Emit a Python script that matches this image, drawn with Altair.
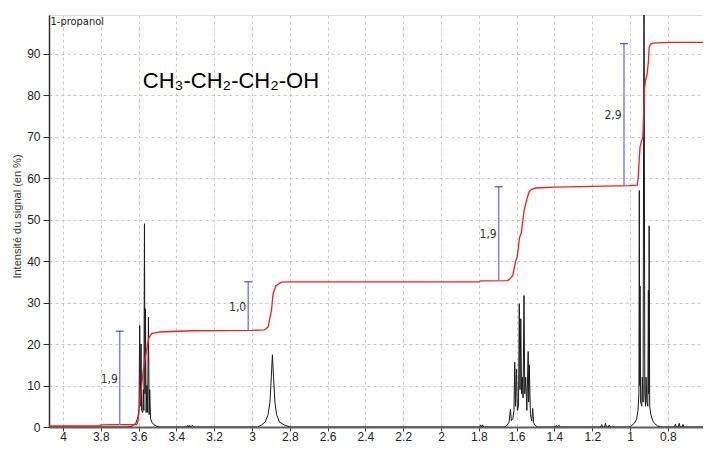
import altair as alt
import pandas as pd

# ---- spectrum (ppm, intensity %) ----
spec_ppm = [
    4.074, 3.660, 3.640, 3.625, 3.612, 3.603, 3.598, 3.594, 3.591, 3.587, 3.584, 3.578, 3.575,
    3.572, 3.569, 3.566, 3.564, 3.560, 3.556, 3.552, 3.548, 3.544, 3.541, 3.537, 3.530,
    3.520, 3.505, 3.490, 3.345, 3.340, 3.335, 3.330, 3.325, 3.315, 3.310,
    2.970, 2.950, 2.930, 2.915, 2.905, 2.898, 2.892, 2.886, 2.879, 2.870, 2.855, 2.830, 2.800,
    1.795, 1.790, 1.785, 1.780, 1.775,
    1.665, 1.650, 1.640, 1.633, 1.628, 1.620, 1.614, 1.610, 1.606, 1.601, 1.596, 1.590,
    1.586, 1.582, 1.578, 1.574, 1.570, 1.566, 1.561, 1.557, 1.552, 1.546, 1.539, 1.536,
    1.533, 1.527, 1.520, 1.515, 1.510, 1.500, 1.490,
    1.395, 1.390, 1.385, 1.375, 1.370,
    1.155, 1.150, 1.145, 1.135, 1.130, 1.125, 1.115, 1.110, 1.105,
    1.000, 0.990, 0.975, 0.965, 0.958, 0.953, 0.951, 0.949, 0.947, 0.944, 0.938, 0.935,
    0.931, 0.926, 0.922, 0.918, 0.915, 0.911, 0.906, 0.903, 0.901, 0.899, 0.896, 0.890,
    0.880, 0.870, 0.855, 0.840,
    0.765, 0.760, 0.755, 0.745, 0.740, 0.735, 0.725, 0.720, 0.715,
    0.614,
]
spec_int = [
    0.0, 0.0, 0.1, 0.5, 1.2, 2.5, 4.5, 24.5, 5.0, 20.0, 4.0, 3.5, 9.0,
    4.0, 49.0, 8.0, 28.5, 3.5, 10.0, 3.5, 26.5, 3.0, 9.0, 2.0, 1.2,
    0.6, 0.2, 0.0, 0.0, 0.4, 0.0, 0.4, 0.0, 0.4, 0.0,
    0.0, 0.5, 1.2, 3.0, 6.0, 12.0, 17.4, 12.0, 6.0, 3.0, 1.2, 0.5, 0.0,
    0.0, 0.5, 0.0, 0.5, 0.0,
    0.0, 0.4, 1.2, 4.3, 1.5, 2.0, 4.0, 15.6, 5.0, 14.0, 4.0, 5.0,
    29.7, 9.0, 26.1, 8.0, 12.0, 7.0, 31.7, 8.0, 12.0, 4.0, 18.2, 6.0,
    15.0, 3.0, 1.5, 4.5, 1.0, 0.3, 0.0,
    0.0, 0.4, 0.0, 0.4, 0.0,
    0.0, 0.6, 0.0, 0.0, 0.9, 0.0, 0.0, 0.5, 0.0,
    0.0, 0.4, 1.0, 2.0, 4.0, 8.0, 57.0, 10.0, 34.0, 6.0, 5.0, 12.0,
    6.0, 120.0, 8.0, 5.0, 12.0, 6.0, 5.0, 33.0, 8.0, 48.5, 5.0, 3.0,
    1.5, 0.8, 0.3, 0.0,
    0.0, 0.7, 0.0, 0.0, 0.9, 0.0, 0.0, 0.6, 0.0,
    0.0,
]

# ---- integration curve (red) ----
int_ppm = [
    4.074, 3.805, 3.800, 3.610, 3.603, 3.594, 3.585, 3.577, 3.568, 3.559, 3.547, 3.532,
    3.488, 3.312, 3.000, 2.935, 2.915, 2.897, 2.889, 2.875, 2.845, 2.800,
    1.800, 1.790, 1.650, 1.640, 1.630, 1.620, 1.612, 1.605, 1.597, 1.590, 1.585, 1.575,
    1.568, 1.560, 1.550, 1.540, 1.533, 1.520, 1.500, 1.400, 1.200, 1.000,
    0.962, 0.957, 0.952, 0.947, 0.940, 0.932, 0.928, 0.924, 0.917, 0.910, 0.903, 0.899,
    0.893, 0.880, 0.800, 0.614,
]
int_val = [
    0.25, 0.25, 0.5, 0.6, 1.5, 5.8, 9.5, 13.0, 16.0, 18.1, 21.3, 22.5,
    22.9, 23.2, 23.3, 23.4, 24.1, 28.1, 32.0, 34.0, 34.9, 35.0,
    35.0, 35.2, 35.3, 35.5, 36.0, 36.6, 38.5, 40.0, 41.0, 43.5, 45.6, 46.8,
    49.5, 52.3, 54.2, 55.8, 56.8, 57.3, 57.6, 57.8, 58.0, 58.2,
    58.3, 60.0, 64.0, 67.5, 68.8, 70.0, 75.0, 81.5, 83.8, 85.0, 88.0, 91.5,
    92.2, 92.5, 92.7, 92.7,
]

# ---- integration bars (blue) and their labels ----
bar_ppm = [3.70, 3.02, 1.695, 1.032]
bar_low = [0.5, 23.3, 35.3, 58.3]
bar_high = [23.1, 35.0, 57.9, 92.4]
bar_labels = ["1,9", "1,0", "1,9", "2,9"]
label_ppm = [3.755, 3.076, 1.751, 1.090]
label_val = [11.5, 29.0, 46.4, 75.3]

x_ticks = [4.0, 3.8, 3.6, 3.4, 3.2, 3.0, 2.8, 2.6, 2.4, 2.2, 2.0, 1.8, 1.6, 1.4, 1.2, 1.0, 0.8]
y_ticks = [0, 10, 20, 30, 40, 50, 60, 70, 80, 90]

X_DOMAIN = [4.074, 0.614]
Y_DOMAIN = [0, 99.3]

spec_df = pd.DataFrame({"ppm": spec_ppm, "i": spec_int, "order": range(len(spec_ppm))})
int_df = pd.DataFrame({"ppm": int_ppm, "v": int_val, "order": range(len(int_ppm))})
bar_df = pd.DataFrame({"ppm": bar_ppm, "lo": bar_low, "hi": bar_high})
lab_df = pd.DataFrame({"ppm": label_ppm, "v": label_val, "t": bar_labels})
name_df = pd.DataFrame({"ppm": [4.066], "v": [97.6], "t": ["1-propanol"]})
formula_df = pd.DataFrame({"ppm": [3.578], "v": [81.6], "t": ["CH\u2083-CH\u2082-CH\u2082-OH"]})

LABEL_FONT = "Liberation Sans"
SMALL_FONT = "DejaVu Sans Condensed, Liberation Sans"

xs = alt.Scale(domain=X_DOMAIN, nice=False, zero=False)
ys = alt.Scale(domain=Y_DOMAIN, nice=False, zero=False)

x_axis = alt.Axis(
    values=x_ticks, format=".1~f", title=None, grid=True,
    labelOverlap=False, labelFlush=False,
)
y_axis = alt.Axis(values=y_ticks, title="Intensité du signal (en %)", grid=True)


def X():
    return alt.X("ppm:Q", scale=xs, axis=x_axis)


def Y(field):
    return alt.Y(field, scale=ys, axis=y_axis)


spectrum = alt.Chart(spec_df).mark_line(color="#1a1a1a", strokeWidth=1, clip=True).encode(
    x=X(), y=Y("i:Q"), order="order:Q",
)

integral = alt.Chart(int_df).mark_line(color="#ff1a1a", strokeWidth=1.3, clip=True).encode(
    x=X(), y=Y("v:Q"), order="order:Q",
)

bars = alt.Chart(bar_df).mark_rule(color="#8080ff", strokeWidth=1.5).encode(
    x=X(), y=Y("lo:Q"), y2="hi:Q",
)
caps = alt.Chart(bar_df).mark_tick(color="#0000ff", orient="horizontal", size=8, thickness=1.2).encode(
    x=X(), y=Y("hi:Q"),
)
labels = alt.Chart(lab_df).mark_text(
    font=SMALL_FONT, fontSize=12, color="#333333", align="center", baseline="middle"
).encode(x=X(), y=Y("v:Q"), text="t:N")

name_txt = alt.Chart(name_df).mark_text(
    font=SMALL_FONT, fontSize=11, color="#222222", align="left", baseline="middle"
).encode(x=X(), y=Y("v:Q"), text="t:N")

formula = alt.Chart(formula_df).mark_text(
    font="Liberation Sans", fontSize=22, color="#000000", align="left", baseline="alphabetic"
).encode(x=X(), y=Y("v:Q"), text="t:N")

chart = alt.layer(spectrum, integral, bars, caps, labels, name_txt, formula).properties(
    width=654, height=412,
    autosize=alt.AutoSizeParams(type="none"),
    padding={"left": 41, "top": 7, "right": 0, "bottom": 15},
).configure_view(stroke=None).configure(background="white").configure_axis(
    gridDash=[3, 3], gridColor="#c8c8c8", gridWidth=1,
    labelFont=LABEL_FONT, labelFontSize=12, labelColor="#222222",
).configure_axisX(
    domainColor="#606060", domainWidth=2, tickColor="#404040", tickSize=4,
    labelPadding=0,
).configure_axisY(
    domainColor="#303030", domainWidth=1.5, tickColor="#303030", tickSize=6,
    labelPadding=3,
    titleFont="Liberation Sans", titleFontSize=11, titleFontWeight="normal",
    titleColor="#333333", titleX=-32, titleY=201, titleAngle=270,
    titleAlign="center", titleBaseline="middle",
)

chart.save("out.html", embed_options={"renderer": "svg", "actions": False})
